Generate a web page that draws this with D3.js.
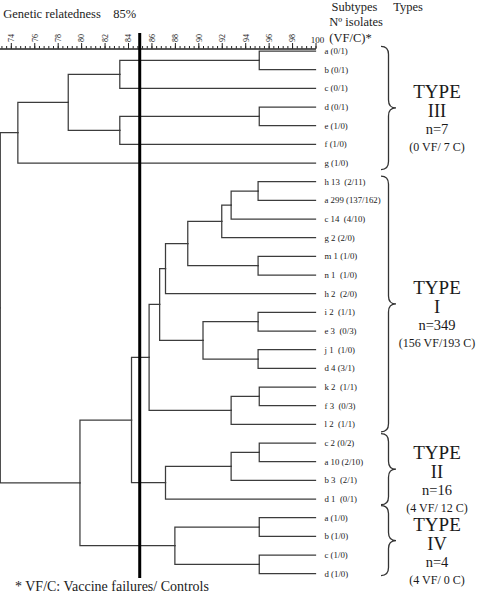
<!DOCTYPE html>
<html><head><meta charset="utf-8">
<script src="https://cdn.jsdelivr.net/npm/d3@7"></script>
<style>
html,body{margin:0;padding:0;background:#fff;}
svg{display:block;font-family:"Liberation Serif","Times New Roman",serif;}
</style></head><body>
<svg id="chart" width="480" height="593"></svg>
<script>
// ---------- DATA ----------
const leafLabels = [
  "a (0/1)", "b (0/1)", "c (0/1)", "d (0/1)", "e (1/0)", "f (1/0)", "g (1/0)",
  "h 13  (2/11)", "a 299 (137/162)", "c 14  (4/10)", "g 2 (2/0)", "m 1 (1/0)", "n 1  (1/0)",
  "h 2  (2/0)", "i 2  (1/1)", "e 3  (0/3)", "j 1  (1/0)", "d 4 (3/1)", "k 2  (1/1)", "f 3  (0/3)", "l 2  (1/1)",
  "c 2 (0/2)", "a 10 (2/10)", "b 3  (2/1)", "d 1  (0/1)",
  "a (1/0)", "b (1/0)", "c (1/0)", "d (1/0)"
];
// merges: [childA, childB, similarity %]; ids 0-28 are leaves, merge k gets id 29+k
const merges = [
  [0, 1, 95.2],   // 29
  [29, 2, 83.3],  // 30
  [3, 4, 95.2],   // 31
  [31, 5, 83.3],  // 32
  [30, 32, 78.9], // 33
  [33, 6, 74.6],  // 34  Type III
  [7, 8, 95.1],   // 35
  [35, 9, 92.8],  // 36
  [36, 10, 92.0], // 37
  [11, 12, 95.1], // 38
  [37, 38, 89.1], // 39
  [39, 13, 87.2], // 40
  [14, 15, 95.1], // 41
  [16, 17, 95.1], // 42
  [41, 42, 90.4], // 43
  [40, 43, 86.7], // 44
  [18, 19, 95.2], // 45
  [45, 20, 92.8], // 46
  [44, 46, 85.8], // 47  Type I
  [21, 22, 95.2], // 48
  [48, 23, 92.8], // 49
  [49, 24, 87.2], // 50  Type II
  [47, 50, 84.3], // 51
  [25, 26, 95.2], // 52
  [27, 28, 95.2], // 53
  [52, 53, 88.0], // 54  Type IV
  [51, 54, 79.9], // 55
  [34, 55, 73.1]  // 56  root
];
const axisDomain = [73, 100];
const axisMajorTicks = [74, 76, 78, 80, 82, 84, 86, 88, 90, 92, 94, 96, 98, 100];
const cutoffValue = 85;
const typeNames = ["III", "I", "II", "IV"];
const typeN = ["n=7", "n=349", "n=16", "n=4"];
const typeCounts = ["(0 VF/ 7 C)", "(156 VF/193 C)", "(4 VF/ 12 C)", "(4 VF/ 0 C)"];
const typeLeafSpan = [[-0.25, 6.35], [6.7, 20.4], [20.5, 24.3], [24.35, 28.1]];

// ---------- SCALES ----------
const svg = d3.select("#chart");
const x = d3.scaleLinear().domain(axisDomain).range([-0.9, 315.5]);
const y = d3.scaleLinear().domain([0, leafLabels.length - 1]).range([51, 573.7]);

// ---------- TREE ----------
const nodes = leafLabels.map((name, i) => ({ name, leaf: i, sim: 100 }));
merges.forEach(([a, b, s]) => nodes.push({ children: [nodes[a], nodes[b]], sim: s }));
const root = d3.hierarchy(nodes[nodes.length - 1]);
root.eachAfter(d => {
  d.px = x(d.data.sim);
  d.py = d.children ? (d.children[0].py + d.children[d.children.length - 1].py) / 2 : y(d.data.leaf);
});

svg.append("g")
  .attr("fill", "none").attr("stroke", "#3c3c3c").attr("stroke-width", 1.25)
  .attr("stroke-linecap", "square")
  .selectAll("path").data(root.descendants().filter(d => d.parent))
  .join("path")
  .attr("d", d => `M${d.parent.px},${d.parent.py}V${d.py}H${d.px}`);

// leaf labels
svg.append("g")
  .attr("font-size", 8.8).attr("fill", "#222")
  .selectAll("text").data(root.leaves())
  .join("text")
  .attr("x", 324.5).attr("y", d => d.py).attr("dy", "0.33em")
  .style("white-space", "pre")
  .text(d => d.data.name);

// ---------- AXIS ----------
const axisY = 48.5;
const gMinor = svg.append("g").attr("transform", `translate(0,${axisY})`)
  .call(d3.axisTop(x).tickValues(d3.range(73.2, 100.01, 0.4)).tickSize(2.5).tickSizeOuter(0).tickFormat(""));
const gMajor = svg.append("g").attr("transform", `translate(0,${axisY})`)
  .call(d3.axisTop(x).tickValues(axisMajorTicks).tickSize(5.5).tickSizeOuter(0).tickFormat(d3.format("d")));
[gMinor, gMajor].forEach(g => {
  g.attr("font-family", null).attr("font-size", null);
  g.selectAll("line,path").attr("stroke", "#222");
});
gMajor.selectAll(".tick text")
  .attr("font-size", 8).attr("fill", "#222")
  .each(function(d) {
    const t = d3.select(this);
    if (d === 100) {
      t.attr("transform", null).attr("x", 1.5).attr("y", -5.5).attr("dy", "0").style("text-anchor", "middle").attr("font-size", 9);
    } else {
      t.attr("transform", "rotate(-90)").attr("x", 6.5).attr("y", 0).attr("dy", "0.35em").style("text-anchor", "start");
    }
  });

// cut-off line
svg.append("line")
  .attr("x1", x(cutoffValue)).attr("x2", x(cutoffValue))
  .attr("y1", 33).attr("y2", 578)
  .attr("stroke", "#000").attr("stroke-width", 3);

// ---------- HEADER TEXT ----------
svg.append("text").attr("x", 3.3).attr("y", 18).attr("font-size", 12.5).attr("fill", "#222").text("Genetic relatedness");
svg.append("text").attr("x", 113.3).attr("y", 18).attr("font-size", 12.5).attr("fill", "#222").text(cutoffValue + "%");
svg.append("text").attr("x", 331.5).attr("y", 11).attr("font-size", 12.5).attr("fill", "#222").text("Subtypes");
svg.append("text").attr("x", 393.3).attr("y", 11).attr("font-size", 12.5).attr("fill", "#222").text("Types");
svg.append("text").attr("x", 329.3).attr("y", 26).attr("font-size", 12.5).attr("fill", "#222").text("Nº isolates");
svg.append("text").attr("x", 329.3).attr("y", 41.5).attr("font-size", 12.5).attr("fill", "#222").text("(VF/C)*");
svg.append("text").attr("x", 15).attr("y", 591).attr("font-size", 14).attr("fill", "#222").text("* VF/C: Vaccine failures/ Controls");

// ---------- BRACES + TYPE LABELS ----------
function brace(top, bottom, xl, xv, xt, r) {
  const mid = (top + bottom) / 2;
  return `M${xl},${top} Q${xv},${top} ${xv},${top + r} L${xv},${mid - r} Q${xv},${mid} ${xt},${mid} ` +
         `Q${xv},${mid} ${xv},${mid + r} L${xv},${bottom - r} Q${xv},${bottom} ${xl},${bottom}`;
}
typeNames.forEach((nm, i) => {
  const top = y(typeLeafSpan[i][0]), bottom = y(typeLeafSpan[i][1]);
  const mid = (top + bottom) / 2;
  svg.append("path").attr("d", brace(top, bottom, 381, 388.5, 396, 8))
    .attr("fill", "none").attr("stroke", "#333").attr("stroke-width", 1.3);
  const g = svg.append("g").attr("text-anchor", "middle").attr("fill", "#1a1a1a");
  g.append("text").attr("x", 437).attr("y", mid - 10).attr("font-size", 19).text("TYPE");
  g.append("text").attr("x", 437).attr("y", mid + 9).attr("font-size", 18.5).text(nm);
  g.append("text").attr("x", 437).attr("y", mid + 26).attr("font-size", 14.5).text(typeN[i]);
  g.append("text").attr("x", 437).attr("y", mid + 43).attr("font-size", 12).text(typeCounts[i]);
});
</script>
</body></html>
